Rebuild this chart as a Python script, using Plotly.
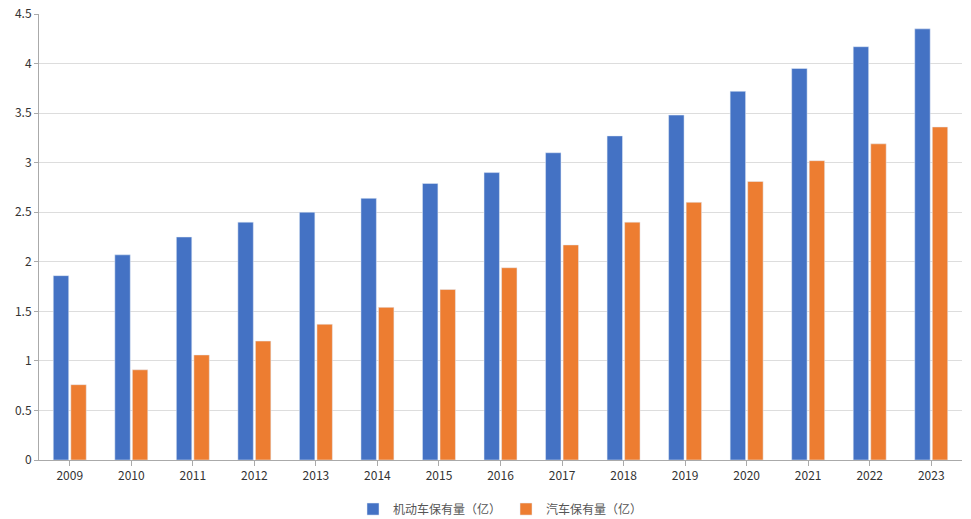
import plotly.graph_objects as go

years = ["2009", "2010", "2011", "2012", "2013", "2014", "2015", "2016",
         "2017", "2018", "2019", "2020", "2021", "2022", "2023"]
motor = [1.86, 2.07, 2.25, 2.40, 2.50, 2.64, 2.79, 2.90, 3.10, 3.27, 3.48, 3.72, 3.95, 4.17, 4.35]
cars = [0.76, 0.91, 1.06, 1.20, 1.37, 1.54, 1.72, 1.94, 2.17, 2.40, 2.60, 2.81, 3.02, 3.19, 3.36]
y_ticks = [0, 0.5, 1, 1.5, 2, 2.5, 3, 3.5, 4, 4.5]
y_labels = ["0", "0.5", "1", "1.5", "2", "2.5", "3", "3.5", "4", "4.5"]

FONT = "Noto Sans CJK SC, Noto Sans, sans-serif"

fig = go.Figure()
fig.add_trace(go.Bar(x=years, y=motor, name="机动车保有量（亿）", marker_color="#4472C4"))
fig.add_trace(go.Bar(x=years, y=cars, name="汽车保有量（亿）", marker_color="#ED7D31"))

fig.update_layout(
    width=971, height=519,
    margin=dict(l=39, r=9, t=14, b=59, autoexpand=False),
    paper_bgcolor="white", plot_bgcolor="white",
    barmode="group", bargap=0.43, bargroupgap=0.12,
    font=dict(family=FONT, size=12, color="#333333"),
    showlegend=True,
    legend=dict(orientation="h", x=0.5, xanchor="center", y=-0.11, yanchor="middle",
                font=dict(size=12, color="#555555"), itemwidth=30),
    xaxis=dict(showline=True, linecolor="#AAAAAA", linewidth=1, ticks="outside",
               tickcolor="#AAAAAA", ticklen=5, showgrid=False, automargin=False,
               tickfont=dict(size=12, color="#333333")),
    yaxis=dict(range=[0, 4.5], tickvals=y_ticks, ticktext=y_labels, showline=True,
               linecolor="#AAAAAA", linewidth=1, ticks="outside", tickcolor="#AAAAAA",
               ticklen=4, showgrid=True, gridcolor="#DDDDDD", zeroline=False,
               automargin=False, tickfont=dict(size=12, color="#333333")),
)

fig.write_html("out.html", config={"displayModeBar": False},
               post_script="document.body.style.margin='0';document.body.style.overflow='hidden';")
